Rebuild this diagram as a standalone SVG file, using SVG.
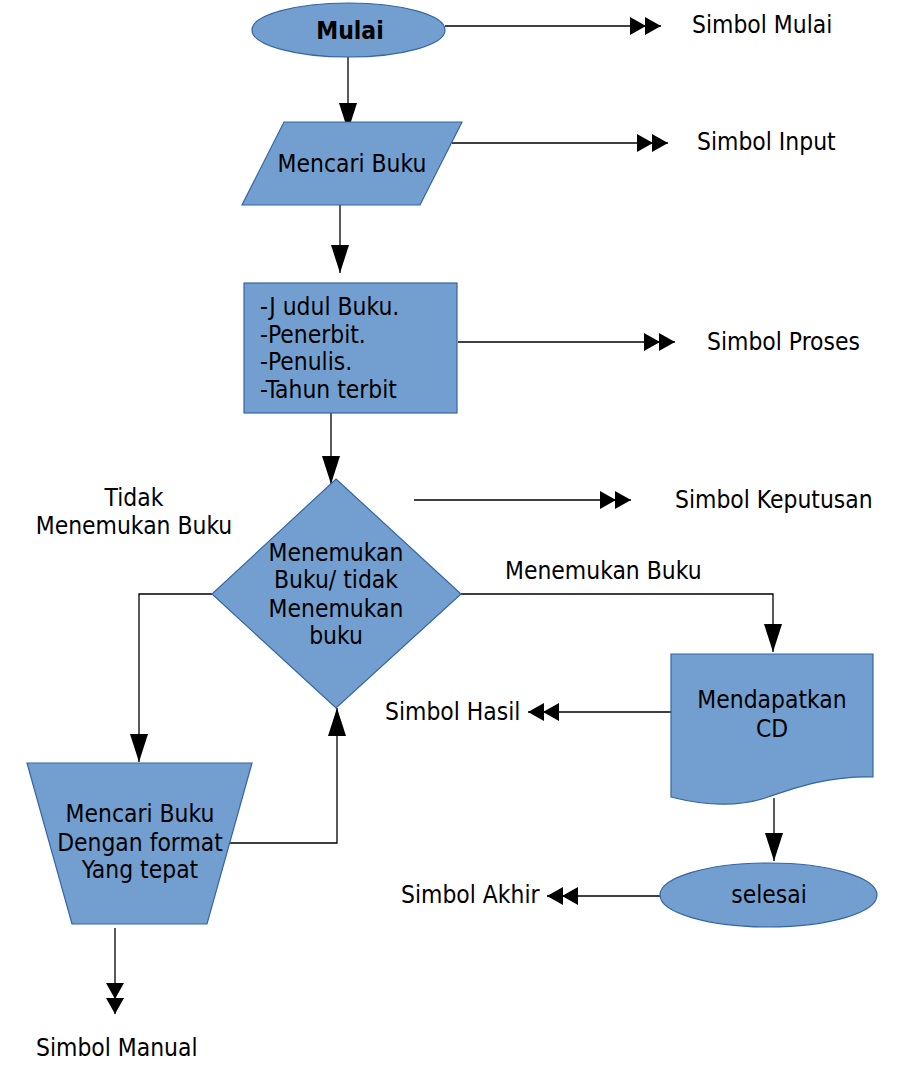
<svg xmlns="http://www.w3.org/2000/svg" width="923" height="1083" viewBox="0 0 923 1083">
<style>
.shape{fill:#729fcf;stroke:#3465a4;stroke-width:1.2}
text{font-family:"DejaVu Sans Condensed","DejaVu Sans","Noto Sans",sans-serif;font-stretch:condensed;font-size:24.4px;fill:#000}
.c{text-anchor:middle}
.b{font-weight:bold;font-size:24.5px}
.ln{fill:none;stroke:#000;stroke-width:1.3}
.s{marker-end:url(#a1)}
.d{marker-end:url(#a2)}
</style>
<defs>
<marker id="a1" viewBox="0 0 28 18" markerWidth="28" markerHeight="18" refX="28" refY="9" orient="auto" markerUnits="userSpaceOnUse"><path d="M0,0 L28,9 L0,18 z" fill="#000"/></marker>
<marker id="a2" viewBox="0 0 31 18" markerWidth="31" markerHeight="18" refX="31" refY="9" orient="auto" markerUnits="userSpaceOnUse"><path d="M0,0 L16,9 L0,18 z M15,0 L31,9 L15,18 z" fill="#000"/></marker>
</defs>
<rect width="923" height="1083" fill="#fff"/>
<g id="connectors">
<path class="ln d" d="M445,26 H661"/>
<path class="ln s" d="M348,57 V131"/>
<path class="ln d" d="M452,143 H668"/>
<path class="ln s" d="M340,205 V273"/>
<path class="ln d" d="M458,342 H675"/>
<path class="ln s" d="M331,413 V484"/>
<path class="ln d" d="M414,500 H631"/>
<path class="ln s" d="M212,594 H139 V762"/>
<path class="ln s" d="M461,594 H773 V652"/>
<path class="ln d" d="M671,712 H528"/>
<path class="ln s" d="M774,798 V861"/>
<path class="ln d" d="M664,896 H547"/>
<path class="ln s" d="M230,843 H337 V708"/>
<path class="ln d" d="M115,928 V1014"/>
</g>
<g id="mulai">
<ellipse class="shape" cx="348.5" cy="30" rx="96.5" ry="27"/>
<text class="c b" x="350" y="39">Mulai</text>
</g>
<g id="input">
<polygon class="shape" points="284,122 462,122 420,205 242,205"/>
<text class="c" x="352" y="172">Mencari Buku</text>
</g>
<g id="proses">
<rect class="shape" x="244" y="283" width="213" height="130"/>
<text x="260" y="315">-J udul Buku.</text>
<text x="260" y="343">-Penerbit.</text>
<text x="260" y="370">-Penulis.</text>
<text x="260" y="398">-Tahun terbit</text>
</g>
<g id="keputusan">
<polygon class="shape" points="336,479 461,594 336,708 212,594"/>
<text class="c" x="336" y="561">Menemukan</text>
<text class="c" x="336" y="588">Buku/ tidak</text>
<text class="c" x="336" y="617">Menemukan</text>
<text class="c" x="336" y="644">buku</text>
</g>
<g id="hasil">
<path class="shape" d="M671,654 H873 V777 C830,776 800,786 765,798 C740,806 710,807 671,797 Z"/>
<text class="c" x="772" y="708">Mendapatkan</text>
<text class="c" x="772" y="737">CD</text>
</g>
<g id="selesai">
<ellipse class="shape" cx="768.5" cy="895" rx="108.5" ry="32"/>
<text class="c" x="769" y="903">selesai</text>
</g>
<g id="manual">
<polygon class="shape" points="27,763 252,763 207,924 72,924"/>
<text class="c" x="140" y="822">Mencari Buku</text>
<text class="c" x="140" y="851">Dengan format</text>
<text class="c" x="140" y="878">Yang tepat</text>
</g>
<g id="labels">
<text x="692" y="33">Simbol Mulai</text>
<text x="697" y="150">Simbol Input</text>
<text x="707" y="350">Simbol Proses</text>
<text x="675" y="508">Simbol Keputusan</text>
<text x="505" y="579">Menemukan Buku</text>
<text x="385" y="720">Simbol Hasil</text>
<text x="401" y="903">Simbol Akhir</text>
<text x="36" y="1056">Simbol Manual</text>
<text class="c" x="134" y="506">Tidak</text>
<text class="c" x="134" y="534">Menemukan Buku</text>
</g>
</svg>
